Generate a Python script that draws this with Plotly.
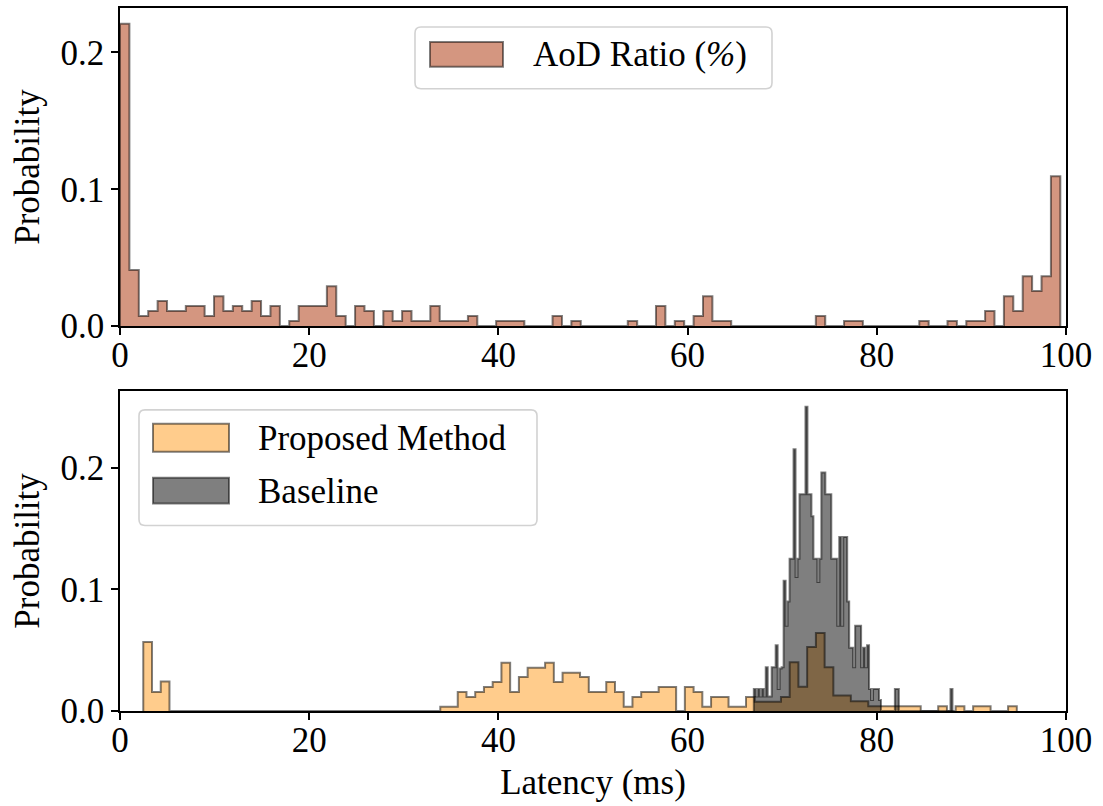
import numpy as np
import plotly.graph_objects as go

# ---------------- data ----------------
aod_range = (0.0, 99.4)
aod_prob = [
    0.221, 0.041, 0.0073, 0.011, 0.0183, 0.011, 0.011, 0.0146, 0.0146, 0.0073,
    0.0219, 0.011, 0.0146, 0.011, 0.0183, 0.0073, 0.0146, 0.0, 0.0037, 0.0146,
    0.0146, 0.0146, 0.0292, 0.0073, 0.0, 0.0146, 0.011, 0.0, 0.011, 0.0037,
    0.011, 0.0037, 0.0037, 0.0146, 0.0037, 0.0037, 0.0037, 0.0073, 0.0, 0.0,
    0.0037, 0.0037, 0.0037, 0.0, 0.0, 0.0, 0.0073, 0.0, 0.0037, 0.0,
    0.0, 0.0, 0.0, 0.0, 0.0037, 0.0, 0.0, 0.0146, 0.0, 0.0037,
    0.0, 0.0073, 0.0219, 0.0037, 0.0037, 0.0, 0.0, 0.0, 0.0, 0.0,
    0.0, 0.0, 0.0, 0.0, 0.0073, 0.0, 0.0, 0.0037, 0.0037, 0.0,
    0.0, 0.0, 0.0, 0.0, 0.0, 0.0037, 0.0, 0.0, 0.0037, 0.0,
    0.0037, 0.0037, 0.011, 0.0, 0.0219, 0.011, 0.0365, 0.0256, 0.0365, 0.1095,
]

proposed_range = (2.46, 94.8)
proposed_prob = [
    0.0566, 0.0156, 0.0243, 0.0, 0.0, 0.0, 0.0, 0.0, 0.0, 0.0,
    0.0, 0.0, 0.0, 0.0, 0.0, 0.0, 0.0, 0.0, 0.0, 0.0,
    0.0, 0.0, 0.0, 0.0, 0.0, 0.0, 0.0, 0.0, 0.0, 0.0,
    0.0, 0.0, 0.0, 0.0, 0.0035, 0.0035, 0.0156, 0.0115, 0.0156, 0.0197,
    0.0238, 0.0396, 0.0156, 0.0279, 0.0355, 0.0355, 0.0396, 0.0238, 0.0314, 0.0314,
    0.0279, 0.0156, 0.0156, 0.0238, 0.0156, 0.0035, 0.0115, 0.0156, 0.0156, 0.0197,
    0.0197, 0.0, 0.0197, 0.0156, 0.0035, 0.0115, 0.0115, 0.0035, 0.0035, 0.0115,
    0.0075, 0.0075, 0.0075, 0.0115, 0.0400, 0.0200, 0.0525, 0.0640, 0.0360, 0.0128,
    0.0128, 0.0080, 0.0080, 0.0040, 0.0040, 0.0040, 0.0040, 0.0040, 0.0040, 0.0,
    0.0, 0.0040, 0.0, 0.0040, 0.0, 0.0040, 0.0040, 0.0, 0.0, 0.0040,
]

baseline_range = (67.0, 88.0)
baseline_prob = [
    0.018, 0.012, 0.018, 0.012, 0.018, 0.012, 0.036, 0.012, 0.012, 0.036,
    0.036, 0.054, 0.018, 0.035, 0.036, 0.107, 0.070, 0.090, 0.125, 0.125,
    0.215, 0.110, 0.125, 0.178, 0.178, 0.178, 0.250, 0.178, 0.178, 0.160,
    0.125, 0.125, 0.106, 0.125, 0.196, 0.196, 0.178, 0.178, 0.178, 0.125,
    0.125, 0.125, 0.070, 0.143, 0.070, 0.143, 0.143, 0.090, 0.052, 0.052,
    0.036, 0.070, 0.070, 0.070, 0.036, 0.052, 0.036, 0.054, 0.018, 0.009,
    0.018, 0.018, 0.018, 0.009, 0.0, 0.0, 0.0, 0.0, 0.0, 0.0,
    0.0, 0.018, 0.018, 0.0, 0.0, 0.0, 0.0, 0.0, 0.0, 0.0,
    0.0, 0.0, 0.0, 0.0, 0.0, 0.0, 0.0, 0.0, 0.0, 0.0,
    0.0, 0.0, 0.0, 0.0, 0.0, 0.0, 0.0, 0.0, 0.0, 0.018,
]

x_ticks = [0, 20, 40, 60, 80, 100]
y_ticks = [0.0, 0.1, 0.2]
legend_top = ["AoD Ratio (<i>%</i>)"]
legend_bottom = ["Proposed Method", "Baseline"]

# ---------------- styling ----------------
FONT = "Liberation Serif, Times New Roman, serif"
FS = 35
W, H = 1103, 806
L, R, T, B = 120, 37, 6, 95
PW, PH = W - L - R, H - T - B

AOD_FILL = "rgb(212,150,128)"
ORANGE_FILL = "rgb(255,204,140)"
GRAY_FILL = "rgba(0,0,0,0.5)"
EDGE = "rgba(0,0,0,0.5)"


def step_xy(heights, lo, hi):
    edges = np.linspace(lo, hi, len(heights) + 1)
    x = [edges[0]] + list(edges[:-1]) + [edges[-1]]
    y = [0.0] + list(heights) + [0.0]
    return x, y


def px2x(px):
    return (px - L) / PW


def py2y(py):
    return (H - B - py) / PH


fig = go.Figure()

xa, ya = step_xy(aod_prob, *aod_range)
fig.add_trace(go.Scatter(x=xa, y=ya, mode="lines", line=dict(shape="hv", color=EDGE, width=2),
                         fill="tozeroy", fillcolor=AOD_FILL, name="AoD Ratio (%)",
                         xaxis="x", yaxis="y", showlegend=False, hoverinfo="skip"))

xp, yp = step_xy(proposed_prob, *proposed_range)
fig.add_trace(go.Scatter(x=xp, y=yp, mode="lines", line=dict(shape="hv", color=EDGE, width=2),
                         fill="tozeroy", fillcolor=ORANGE_FILL, name=legend_bottom[0],
                         xaxis="x2", yaxis="y2", showlegend=False, hoverinfo="skip"))

xb, yb = step_xy(baseline_prob, *baseline_range)
fig.add_trace(go.Scatter(x=xb, y=yb, mode="lines", line=dict(shape="hv", color=EDGE, width=2),
                         fill="tozeroy", fillcolor=GRAY_FILL, name=legend_bottom[1],
                         xaxis="x2", yaxis="y2", showlegend=False, hoverinfo="skip"))

axis_common = dict(showline=True, mirror=True, linecolor="black", linewidth=1.6,
                   ticks="outside", ticklen=7, tickwidth=1.6, tickcolor="black",
                   showgrid=False, zeroline=False,
                   tickfont=dict(family=FONT, size=FS, color="black"))

top_bottom_px = 325
bot_top_px = 390

fig.update_layout(
    width=W, height=H, margin=dict(l=L, r=R, t=T, b=B),
    paper_bgcolor="white", plot_bgcolor="white", showlegend=False,
    font=dict(family=FONT, size=FS, color="black"),
    xaxis=dict(domain=[0, 1], anchor="y", range=[0, 100], tickvals=x_ticks,
               ticklabelstandoff=-10, **axis_common),
    yaxis=dict(domain=[py2y(top_bottom_px), 1], anchor="x", range=[0, 0.2325], tickvals=y_ticks,
               tickformat=".1f", title=dict(text="Probability", font=dict(family=FONT, size=FS), standoff=10),
               **axis_common),
    xaxis2=dict(domain=[0, 1], anchor="y2", range=[0, 100], tickvals=x_ticks, ticklabelstandoff=-10,
                title=dict(text="Latency (ms)", font=dict(family=FONT, size=FS), standoff=11), **axis_common),
    yaxis2=dict(domain=[0, py2y(bot_top_px)], anchor="x2", range=[0, 0.263], tickvals=y_ticks,
                tickformat=".1f", title=dict(text="Probability", font=dict(family=FONT, size=FS), standoff=10),
                **axis_common),
)


def rounded_box(x0, y0, x1, y1, r=6):
    rx, ry = r / PW, r / PH
    X0, X1 = px2x(x0), px2x(x1)
    Yt, Yb = py2y(y0), py2y(y1)
    p = (f"M{X0+rx},{Yt} L{X1-rx},{Yt} Q{X1},{Yt} {X1},{Yt-ry} "
         f"L{X1},{Yb+ry} Q{X1},{Yb} {X1-rx},{Yb} L{X0+rx},{Yb} "
         f"Q{X0},{Yb} {X0},{Yb+ry} L{X0},{Yt-ry} Q{X0},{Yt} {X0+rx},{Yt} Z")
    return dict(type="path", xref="paper", yref="paper", path=p,
                fillcolor="rgba(255,255,255,0.8)", line=dict(color="rgb(210,210,210)", width=1.6),
                layer="above")


def patch(x0, y0, x1, y1, color):
    return dict(type="rect", xref="paper", yref="paper", x0=px2x(x0), x1=px2x(x1),
                y0=py2y(y1), y1=py2y(y0), fillcolor=color,
                line=dict(color=EDGE, width=2), layer="above")


shapes = [
    rounded_box(415, 25, 772, 87),
    patch(430, 40, 503, 65, AOD_FILL),
    rounded_box(139, 409, 537, 525),
    patch(153, 423, 229, 451, ORANGE_FILL),
    patch(153, 477, 229, 503, GRAY_FILL),
]
fig.update_layout(shapes=shapes)

annotations = [
    dict(text=legend_top[0], x=px2x(531), y=py2y(53)),
    dict(text=legend_bottom[0], x=px2x(256), y=py2y(438)),
    dict(text=legend_bottom[1], x=px2x(256), y=py2y(491)),
]
for a in annotations:
    a.update(xref="paper", yref="paper", xanchor="left", yanchor="middle", showarrow=False,
             font=dict(family=FONT, size=FS, color="black"))
fig.update_layout(annotations=annotations)

fig.write_html("out.html")
